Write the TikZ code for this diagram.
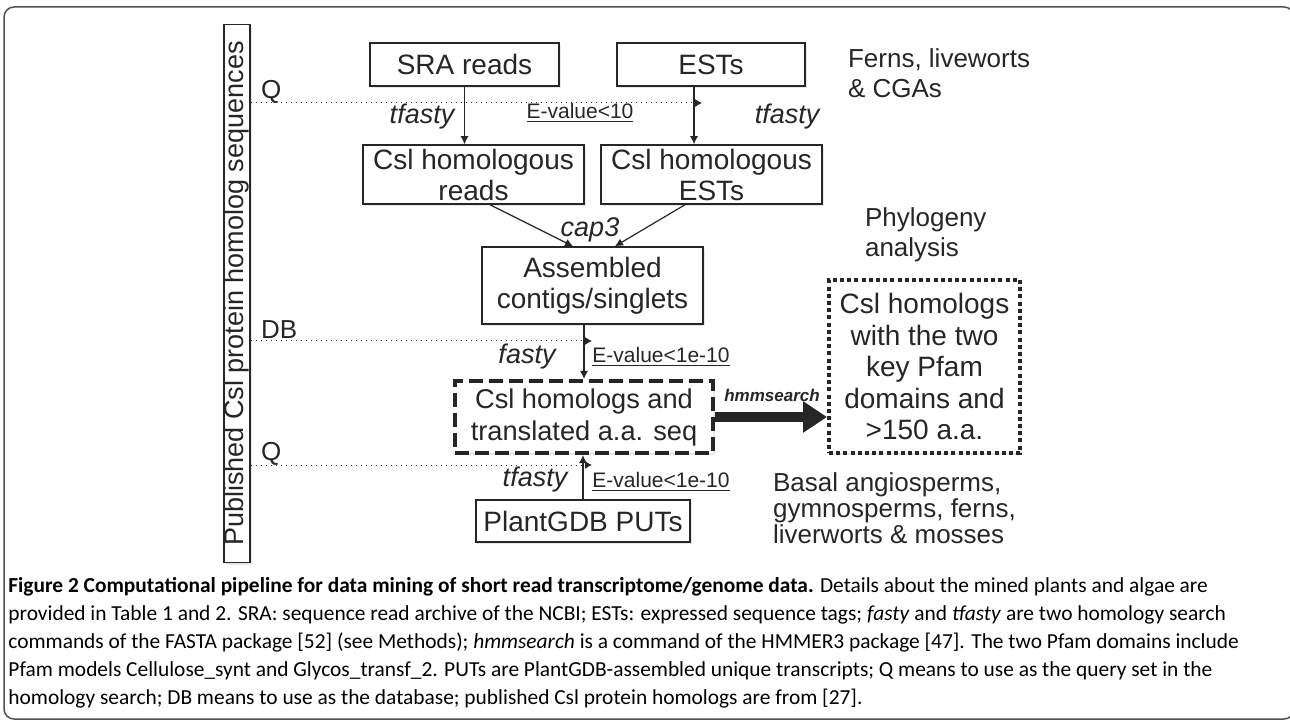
\documentclass[tikz,border=0pt]{standalone}
\usepackage{fontspec}
\setmainfont{Liberation Sans}
\newfontfamily\capfont{Carlito}
\usetikzlibrary{arrows.meta,positioning,shadows}
\definecolor{ink}{HTML}{262626}

\tikzset{
  flowbox/.style={draw=ink, line width=0.75pt, fill=white, inner sep=0pt, align=center, text=ink, font=\fontsize{14}{15.5}\selectfont,
    drop shadow={shadow xshift=1pt, shadow yshift=-1pt, opacity=0.18}},
  flowarr/.style={draw=ink, line width=0.6pt, -{Latex[length=4pt,width=4pt]}},
  qline/.style={draw=ink, line width=0.5pt, dotted, -{Latex[length=3.5pt,width=4pt]}},
  toolname/.style={text=ink, font=\fontsize{13.5}{15}\selectfont\itshape},
  cutoff/.style={text=ink, font=\fontsize{10.5}{12}\selectfont},
  qdb/.style={text=ink, anchor=west, font=\fontsize{13}{15}\selectfont},
  sidenote/.style={text=ink, align=left, anchor=west, font=\fontsize{13}{15}\selectfont},
  capline/.style={anchor=west, inner sep=0pt, text=black, font=\capfont\fontsize{10.7}{13}\selectfont},
}

\begin{document}
\begin{tikzpicture}[x=0.5pt,y=-0.5pt]
\useasboundingbox (0,0) rectangle (1290,721);
\draw[ink!80, line width=0.75pt, rounded corners=5pt] (4,7) rectangle (1294,719);% frame

% query / database column
\node[flowbox, rotate=90, minimum width=269pt, minimum height=13pt, font=\fontsize{13.5}{15}\selectfont] (pub) at (237,293.5) {Published Csl protein homolog sequences};

% boxes
\node[flowbox, minimum width=94.5pt, minimum height=21.5pt] (sra) at (464.5,64.5) {SRA reads};
\node[flowbox, minimum width=94pt, minimum height=21.5pt] (ests) at (711,64.5) {ESTs};
\node[flowbox, minimum width=110.5pt, minimum height=29.5pt] (csr) at (473.5,174.5) {Csl homologous\\reads};
\node[flowbox, minimum width=110.5pt, minimum height=29.5pt] (cse) at (711.5,174.5) {Csl homologous\\ESTs};
\node[flowbox, minimum width=110.5pt, minimum height=38.5pt] (asm) at (592.5,285.5) {Assembled\\contigs/singlets};
\node[flowbox, minimum width=129pt, minimum height=36pt, line width=2pt, dash pattern=on 7pt off 3pt, font=\fontsize{13.6}{16}\selectfont] (hom) at (584,417) {Csl homologs and\\translated a.a. seq};
\node[flowbox, minimum width=107pt, minimum height=21pt] (put) at (583,521) {PlantGDB PUTs};
\node[flowbox, minimum width=95.5pt, minimum height=86.5pt, line width=2pt, dash pattern=on 2pt off 1.6pt, font=\fontsize{14}{15.75}\selectfont] (pfam) at (924.5,366.5) {Csl homologs\\with the two\\key Pfam\\domains and\\>150 a.a.};

% Q and DB lines
\coordinate (q1) at (702,103);
\coordinate (db) at (592,341);
\coordinate (q2) at (592,465);
\draw[qline] (pub.south |- q1) -- (q1);
\draw[qline] (pub.south |- db) -- (db);
\draw[qline] (pub.south |- q2) -- (q2);
\node[qdb] (qa) at (254,92) {Q};
\node[qdb] (dbl) at (254,330) {DB};
\node[qdb] (qb) at (254,454) {Q};

% arrows
\draw[flowarr] (sra.south) -- (sra.south |- csr.north);
\draw[flowarr] ([xshift=-8.5pt]ests.south) -- ([xshift=-8.5pt]ests.south |- cse.north);
\draw[flowarr] ([xshift=8.25pt]csr.south) -- ([xshift=-9.75pt]asm.north);
\draw[flowarr] ([xshift=-13.25pt]cse.south) -- ([xshift=11.25pt]asm.north);
\draw[flowarr] ([xshift=-4.25pt]asm.south) -- ([xshift=-4.25pt]asm.south |- hom.north);
\draw[flowarr] (put.north) -- (put.north |- hom.south);
\draw[ink, line width=5pt, -{Triangle[length=12pt,width=15pt]}] (hom.east) -- (pfam.west |- hom.east);

% tool and cut-off labels
\node[toolname] (tf1) at (422,117) {tfasty};
\node[cutoff] (ev1) at (580,113) {\underline{E-value<10}};
\node[toolname] (tf2) at (787,117) {tfasty};
\node[toolname] (cap) at (590,230) {cap3};
\node[toolname] (fas) at (527,357) {fasty};
\node[cutoff] (ev2) at (661,357) {\underline{E-value<1e-10}};
\node[toolname] (tf3) at (535,480) {tfasty};
\node[cutoff] (ev3) at (661,482) {\underline{E-value<1e-10}};
\node[text=ink, font=\fontsize{8.5}{10}\selectfont\bfseries\itshape] (hmm) at (772,395) {hmmsearch};

% side notes
\node[sidenote] (fern) at (841,73) {Ferns, liveworts\\\& CGAs};
\node[sidenote] (phy) at (858,235) {Phylogeny\\analysis};
\node[sidenote, font=\fontsize{13}{13}\selectfont] (basal) at (766,508) {Basal angiosperms,\\gymnosperms, ferns,\\liverworts \& mosses};

% caption
\node[capline] (c1) at (8,587) {\textbf{Figure 2 Computational pipeline for data mining of short read transcriptome/genome data.} Details about the mined plants and algae are};
\node[capline] (c2) at (8,615) {provided in Table 1 and 2. SRA: sequence read archive of the NCBI; ESTs: expressed sequence tags; \textit{fasty} and \textit{tfasty} are two homology search};
\node[capline] (c3) at (8,643) {commands of the FASTA package [52] (see Methods); \textit{hmmsearch} is a command of the HMMER3 package [47]. The two Pfam domains include};
\node[capline] (c4) at (8,671) {Pfam models Cellulose\_synt and Glycos\_transf\_2. PUTs are PlantGDB-assembled unique transcripts; Q means to use as the query set in the};
\node[capline] (c5) at (8,699) {homology search; DB means to use as the database; published Csl protein homologs are from [27].};
\end{tikzpicture}
\end{document}
